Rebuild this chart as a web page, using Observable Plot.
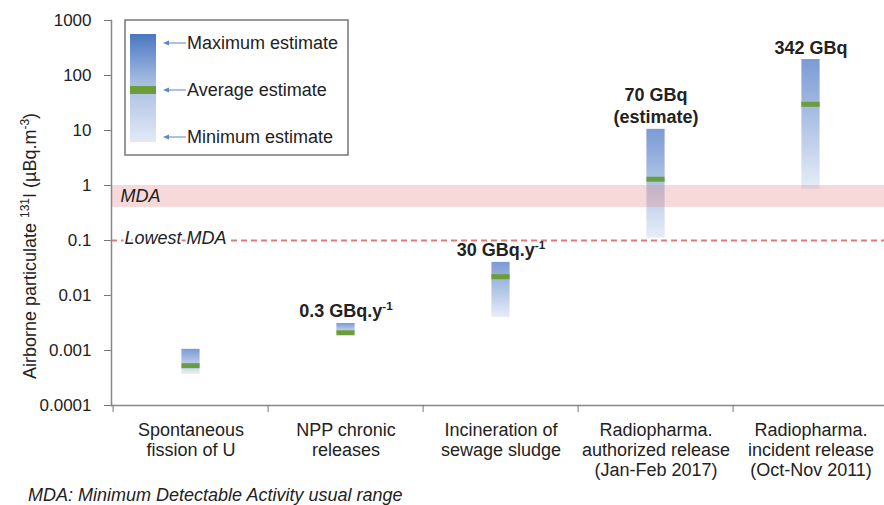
<!DOCTYPE html>
<html><head><meta charset="utf-8">
<script src="https://cdn.jsdelivr.net/npm/d3@7"></script>
<script src="https://cdn.jsdelivr.net/npm/@observablehq/plot@0.6"></script>
<style>
body{margin:0;background:#fff;overflow:hidden;font-family:"Liberation Sans",Arial,sans-serif;}
#caption{font-style:italic;font-size:18px;line-height:20px;color:#222;padding-left:28px;white-space:nowrap;}
</style></head><body>
<div id="chart"></div>
<div id="caption">MDA: Minimum Detectable Activity usual range</div>
<script>
const categories = ["Spontaneous\nfission of U","NPP chronic\nreleases","Incineration of\nsewage sludge","Radiopharma.\nauthorized release\n(Jan-Feb 2017)","Radiopharma.\nincident release\n(Oct-Nov 2011)"];
const minEstimate = [0.00037, 0.0019, 0.004, 0.11, 0.85];
const avgEstimate = [0.00053, 0.0021, 0.022, 1.3, 30];
const maxEstimate = [0.00105, 0.0031, 0.04, 10.5, 195];
const releaseLabels = ["", "0.3 GBq.y^-1", "30 GBq.y^-1", "70 GBq\n(estimate)", "342 GBq"];
const yTicks = [0.0001, 0.001, 0.01, 0.1, 1, 10, 100, 1000];
const yTickLabels = ["0.0001", "0.001", "0.01", "0.1", "1", "10", "100", "1000"];
const mdaRange = [0.4, 1];
const lowestMDA = [0.1];
const legendItems = ["Maximum estimate", "Average estimate", "Minimum estimate"];

const data = categories.map((c, i) => ({cat: c, min: minEstimate[i], avg: avgEstimate[i], max: maxEstimate[i], label: releaseLabels[i]}));

const W = 884, H = 485;
const mL = 111, mR = -6, mT = 20, mB = H - 405;
const step = (W - mR - mL) / categories.length;
const barW = 19;
const inset = (step - barW) / 2;
const font = "Liberation Sans, Arial, sans-serif";

const plot = Plot.plot({
  width: W, height: H,
  marginLeft: mL, marginRight: mR, marginTop: mT, marginBottom: mB,
  style: {fontFamily: font, fontSize: "17px", color: "#222", background: "#fff"},
  x: {type: "band", domain: categories, padding: 0, axis: null, label: null},
  y: {type: "log", domain: [0.0001, 1000], axis: null, label: null},
  marks: [
    Plot.barY(data, {x: "cat", y1: "min", y2: "max", fill: "url(#barGrad)", insetLeft: inset, insetRight: inset}),
    Plot.rect([mdaRange], {y1: d => d[0], y2: d => d[1], fill: "#e88a8a", fillOpacity: 0.32}),
    Plot.ruleY(lowestMDA, {stroke: "#e07a78", strokeWidth: 2, strokeDasharray: "6,4"}),
    Plot.tickY(data, {x: "cat", y: "avg", stroke: "#6b9e3a", strokeWidth: 5, insetLeft: inset, insetRight: inset}),
    Plot.text(data, {x: "cat", y: "max", text: "label", lineAnchor: "bottom", dy: -6, fontSize: 18, fontWeight: "bold", fill: "#222", lineHeight: 1.25}),
    Plot.text(["MDA"], {y: mdaRange[1], frameAnchor: "left", dx: 9, dy: 11, fontSize: 18, fontStyle: "italic", textAnchor: "start", fill: "#222"}),
    Plot.text(["Lowest MDA"], {y: lowestMDA[0], frameAnchor: "left", dx: 13, dy: -2, fontSize: 18, fontStyle: "italic", textAnchor: "start", fill: "#222", stroke: "white", strokeWidth: 4}),
    Plot.frame({anchor: "left", stroke: "#888", strokeWidth: 1.5}),
    Plot.frame({anchor: "bottom", stroke: "#888", strokeWidth: 1.5}),
    Plot.axisY(yTicks, {tickFormat: d => yTickLabels[yTicks.indexOf(d)], tickSize: 7, tickPadding: 13, stroke: "#777", fontSize: 17, fill: "#222", label: null}),
    Plot.axisX({tickSize: 7, tickFormat: () => "", dx: -step / 2, stroke: "#777", label: null}),
    Plot.axisX({tickSize: 0, tickPadding: 16, fontSize: 18, lineHeight: 1.11, fill: "#222", tickFormat: d => d, label: null})
  ]
});

document.getElementById("chart").appendChild(plot);
const svg = d3.select(plot);
const defs = svg.insert("defs", ":first-child");
const g1 = defs.append("linearGradient").attr("id", "barGrad").attr("x1", 0).attr("y1", 0).attr("x2", 0).attr("y2", 1);
g1.append("stop").attr("offset", "0%").attr("stop-color", "#7b9bd4");
g1.append("stop").attr("offset", "100%").attr("stop-color", "#e6edf7");
const g2 = defs.append("linearGradient").attr("id", "legGrad").attr("x1", 0).attr("y1", 0).attr("x2", 0).attr("y2", 1);
g2.append("stop").attr("offset", "0%").attr("stop-color", "#4a77c0");
g2.append("stop").attr("offset", "45%").attr("stop-color", "#a6bde2");
g2.append("stop").attr("offset", "100%").attr("stop-color", "#e2eaf6");

// superscripts in annotations
svg.selectAll("text").each(function () {
  const t = this.textContent;
  if (t.includes("^")) {
    const [a, b] = t.split("^");
    const s = d3.select(this);
    s.text(null);
    s.append("tspan").text(a);
    s.append("tspan").attr("dy", "-0.6em").attr("font-size", "0.65em").text(b);
  }
});

// legend box
const lg = svg.append("g").attr("text-anchor", "start");
lg.append("rect").attr("x", 125).attr("y", 20).attr("width", 223).attr("height", 135)
  .attr("fill", "#fff").attr("stroke", "#777").attr("stroke-width", 1.5);
lg.append("rect").attr("x", 130).attr("y", 34).attr("width", 26).attr("height", 108).attr("fill", "url(#legGrad)");
lg.append("rect").attr("x", 130).attr("y", 86).attr("width", 26).attr("height", 8).attr("fill", "#6b9e3a");
const itemY = [43, 90, 137];
legendItems.forEach((txt, i) => {
  const y = itemY[i];
  lg.append("line").attr("x1", 167).attr("x2", 186).attr("y1", y).attr("y2", y).attr("stroke", "#5b86c8").attr("stroke-width", 1);
  lg.append("path").attr("d", `M163,${y} L169,${y - 2.5} L169,${y + 2.5} Z`).attr("fill", "#5b86c8");
  lg.append("text").attr("x", 187).attr("y", y).attr("dy", "0.35em").attr("font-size", 18).attr("fill", "#222")
    .attr("text-anchor", "start").attr("font-family", font).text(txt);
});

// y-axis title with superscripts
const yl = svg.append("text").attr("transform", "translate(36,246) rotate(-90)").attr("text-anchor", "middle")
  .attr("font-size", 18).attr("fill", "#222").attr("font-family", font);
yl.append("tspan").text("Airborne particulate ");
yl.append("tspan").attr("font-size", 12).attr("dy", -7).text("131");
yl.append("tspan").attr("dy", 7).text("I (µBq.m");
yl.append("tspan").attr("font-size", 12).attr("dy", -7).text("-3");
yl.append("tspan").attr("dy", 7).text(")");
</script>
</body></html>
